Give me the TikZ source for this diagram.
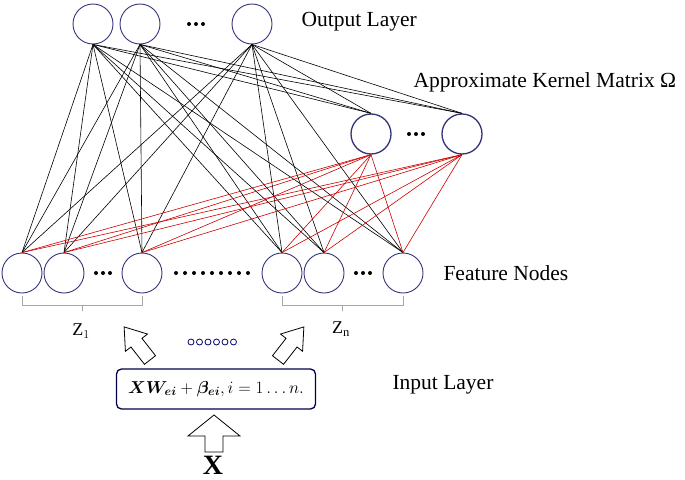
\documentclass[tikz,border=0pt]{standalone}
\usepackage{fontspec}
\setmainfont{Liberation Serif}
\usepackage{amsmath,bm}
\begin{document}
\begin{tikzpicture}[x=1pt,y=-1pt,
  neu/.style={circle,draw=blue!35!black!80,line width=0.9pt,minimum size=40pt,inner sep=0pt},
  kn/.style={neu,line width=1.3pt},
  blk/.style={line width=0.6pt,black},
  red/.style={line width=0.6pt,red!80!black},
  lab/.style={font=\fontsize{21.5}{23}\selectfont,anchor=west},
  dot/.style={circle,fill=black,inner sep=0pt,minimum size=4pt},
  brk/.style={draw=gray!70,line width=0.8pt},
  barrow/.style={draw=black,fill=white,line width=0.8pt}]
\useasboundingbox (0,0) rectangle (685,479);
\foreach \n/\x in {o1/93,o2/140,o3/252}{\node[neu] (\n) at (\x,24) {};}
\foreach \n/\x in {k1/371,k2/462}{\node[kn] (\n) at (\x,134) {};}
\foreach \n/\x in {f1/22,f2/64,f3/142,f4/282,f5/324,f6/403}{\node[neu] (\n) at (\x,273) {};}
\foreach \x/\y [count=\i] in {189/24,196/24,203/24, 409/134,416/134,423/134, 96/273,103/273,110/273, 356/273,363/273,370/273}{\node[dot] (d\i) at (\x,\y) {};}
\foreach \i in {0,...,8}{\node[dot] (e\i) at (176+\i*9,273) {};}
\foreach \o in {o1,o2,o3}{
  \foreach \f in {f1,f2,f3,f4,f5,f6}{\draw[blk] (\o.south) -- (\f.north);}
  \foreach \k in {k1,k2}{\draw[blk] (\o.south) -- (\k.north);}}
\foreach \k in {k1,k2}{\foreach \f in {f1,f2,f3,f4,f5,f6}{\draw[red] (\k.south) -- (\f.north);}}
\coordinate (b1) at (22,296); \coordinate (b2) at (142,296);
\coordinate (b3) at (282,296); \coordinate (b4) at (403,296);
\draw[brk] (b1) -- ++(0,9) -| (b2);
\draw[brk] (82,305) -- ++(0,6);
\draw[brk] (b3) -- ++(0,9) -| (b4);
\draw[brk] (342,305) -- ++(0,6);
\node[font=\fontsize{18}{19}\selectfont] (z1) at (81,331) {Z$_1$};
\node[font=\fontsize{18}{19}\selectfont] (zn) at (341,329) {Z$_\mathrm{n}$};
\node[lab] (lo) at (298,22) {Output Layer};
\node[lab] (lk) at (410,82) {Approximate Kernel Matrix Ω};
\node[lab] (lf) at (440,273) {Feature Nodes};
\node[lab] (li) at (389,385) {Input Layer};
\node[draw=blue!30!black,line width=1.3pt,rounded corners=5pt,minimum width=199pt,minimum height=40pt,font=\fontsize{18}{19}\selectfont] (box) at (216,389)
  {$\bm{XW_{ei}}+\bm{\beta_{ei}}, i=1\ldots n.$};
\foreach \i in {0,...,5}{\draw[blue!40!black,line width=0.8pt] (191+\i*8.5,342) circle (3pt);}
\def\barr{(-9,0) -- (-9,-16) -- (-26,-16) -- (0,-37) -- (26,-16) -- (9,-16) -- (9,0) -- cycle}
\def\tarr{(-7,0) -- (-7,-22) -- (-14,-22) -- (0,-42) -- (14,-22) -- (7,-22) -- (7,0) -- cycle}
\draw[barrow,shift={(150,360)},rotate=38] \tarr;
\draw[barrow,shift={(278,360)},rotate=-38] \tarr;
\draw[barrow,shift={(214,452)}] \barr;
\node[font=\bfseries\fontsize{28}{28}\selectfont] (X) at (213,465) {X};
\end{tikzpicture}
\end{document}
